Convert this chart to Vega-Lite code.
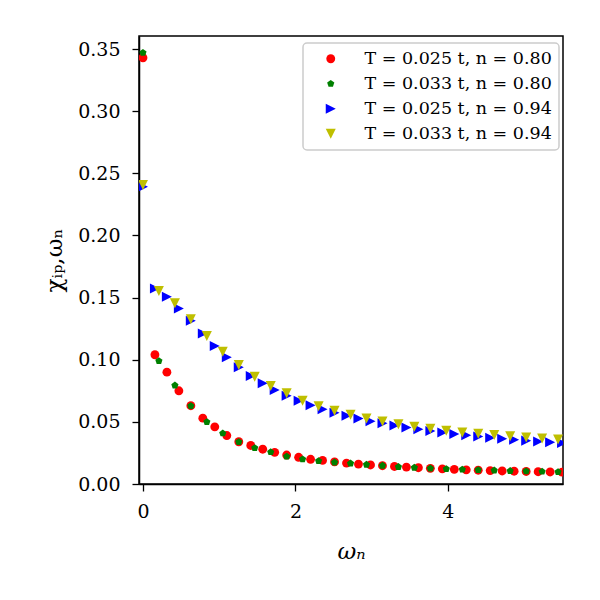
{
  "$schema": "https://vega.github.io/schema/vega-lite/v6.json",
  "width": 424,
  "height": 448,
  "autosize": "none",
  "padding": {"left": 139, "top": 36, "right": 37, "bottom": 116},
  "background": "white",
  "config": {
    "view": {"stroke": "black", "strokeWidth": 1.5},
    "font": "DejaVu Serif",
    "axis": {
      "grid": false,
      "domainColor": "black",
      "domainWidth": 1.5,
      "tickColor": "black",
      "tickWidth": 1.3,
      "tickSize": 7,
      "labelFont": "DejaVu Serif",
      "labelFontSize": 19,
      "labelColor": "black",
      "titleFont": "DejaVu Serif",
      "titleFontSize": 23,
      "titleFontWeight": "normal",
      "titleColor": "black"
    },
    "legend": {
      "orient": "none",
      "legendX": 164,
      "legendY": 7,
      "padding": 7,
      "rowPadding": 6,
      "symbolOffset": 12,
      "labelOffset": 25,
      "labelFont": "DejaVu Serif",
      "labelFontSize": 17.5,
      "labelColor": "black",
      "labelLimit": 400,
      "symbolSize": 78.5,
      "symbolStrokeWidth": 0,
      "strokeColor": "#cccccc",
      "strokeWidth": 1.5,
      "fillColor": "rgba(255,255,255,0.8)",
      "cornerRadius": 4
    }
  },
  "data": {
    "values": [
      {"s": "T = 0.025 t, n = 0.80", "w": 0.000, "chi": 0.343},
      {"s": "T = 0.025 t, n = 0.80", "w": 0.157, "chi": 0.104},
      {"s": "T = 0.025 t, n = 0.80", "w": 0.314, "chi": 0.090},
      {"s": "T = 0.025 t, n = 0.80", "w": 0.471, "chi": 0.075},
      {"s": "T = 0.025 t, n = 0.80", "w": 0.628, "chi": 0.063},
      {"s": "T = 0.025 t, n = 0.80", "w": 0.785, "chi": 0.053},
      {"s": "T = 0.025 t, n = 0.80", "w": 0.942, "chi": 0.046},
      {"s": "T = 0.025 t, n = 0.80", "w": 1.100, "chi": 0.039},
      {"s": "T = 0.025 t, n = 0.80", "w": 1.257, "chi": 0.034},
      {"s": "T = 0.025 t, n = 0.80", "w": 1.414, "chi": 0.031},
      {"s": "T = 0.025 t, n = 0.80", "w": 1.571, "chi": 0.028},
      {"s": "T = 0.025 t, n = 0.80", "w": 1.728, "chi": 0.0255},
      {"s": "T = 0.025 t, n = 0.80", "w": 1.885, "chi": 0.0233},
      {"s": "T = 0.025 t, n = 0.80", "w": 2.042, "chi": 0.0215},
      {"s": "T = 0.025 t, n = 0.80", "w": 2.199, "chi": 0.0199},
      {"s": "T = 0.025 t, n = 0.80", "w": 2.356, "chi": 0.0190},
      {"s": "T = 0.025 t, n = 0.80", "w": 2.513, "chi": 0.0178},
      {"s": "T = 0.025 t, n = 0.80", "w": 2.670, "chi": 0.0168},
      {"s": "T = 0.025 t, n = 0.80", "w": 2.827, "chi": 0.0160},
      {"s": "T = 0.025 t, n = 0.80", "w": 2.985, "chi": 0.0153},
      {"s": "T = 0.025 t, n = 0.80", "w": 3.142, "chi": 0.0147},
      {"s": "T = 0.025 t, n = 0.80", "w": 3.299, "chi": 0.0141},
      {"s": "T = 0.025 t, n = 0.80", "w": 3.456, "chi": 0.0136},
      {"s": "T = 0.025 t, n = 0.80", "w": 3.613, "chi": 0.0131},
      {"s": "T = 0.025 t, n = 0.80", "w": 3.770, "chi": 0.0126},
      {"s": "T = 0.025 t, n = 0.80", "w": 3.927, "chi": 0.0122},
      {"s": "T = 0.025 t, n = 0.80", "w": 4.084, "chi": 0.0118},
      {"s": "T = 0.025 t, n = 0.80", "w": 4.241, "chi": 0.0114},
      {"s": "T = 0.025 t, n = 0.80", "w": 4.398, "chi": 0.0111},
      {"s": "T = 0.025 t, n = 0.80", "w": 4.555, "chi": 0.0108},
      {"s": "T = 0.025 t, n = 0.80", "w": 4.712, "chi": 0.0105},
      {"s": "T = 0.025 t, n = 0.80", "w": 4.869, "chi": 0.0103},
      {"s": "T = 0.025 t, n = 0.80", "w": 5.027, "chi": 0.0101},
      {"s": "T = 0.025 t, n = 0.80", "w": 5.184, "chi": 0.0099},
      {"s": "T = 0.025 t, n = 0.80", "w": 5.341, "chi": 0.0097},
      {"s": "T = 0.025 t, n = 0.80", "w": 5.498, "chi": 0.0095},

      {"s": "T = 0.033 t, n = 0.80", "w": 0.000, "chi": 0.347},
      {"s": "T = 0.033 t, n = 0.80", "w": 0.209, "chi": 0.099},
      {"s": "T = 0.033 t, n = 0.80", "w": 0.419, "chi": 0.0794},
      {"s": "T = 0.033 t, n = 0.80", "w": 0.628, "chi": 0.0628},
      {"s": "T = 0.033 t, n = 0.80", "w": 0.838, "chi": 0.0499},
      {"s": "T = 0.033 t, n = 0.80", "w": 1.047, "chi": 0.0408},
      {"s": "T = 0.033 t, n = 0.80", "w": 1.257, "chi": 0.0338},
      {"s": "T = 0.033 t, n = 0.80", "w": 1.466, "chi": 0.0290},
      {"s": "T = 0.033 t, n = 0.80", "w": 1.676, "chi": 0.0257},
      {"s": "T = 0.033 t, n = 0.80", "w": 1.885, "chi": 0.0222},
      {"s": "T = 0.033 t, n = 0.80", "w": 2.094, "chi": 0.0200},
      {"s": "T = 0.033 t, n = 0.80", "w": 2.304, "chi": 0.0185},
      {"s": "T = 0.033 t, n = 0.80", "w": 2.513, "chi": 0.0174},
      {"s": "T = 0.033 t, n = 0.80", "w": 2.723, "chi": 0.0166},
      {"s": "T = 0.033 t, n = 0.80", "w": 2.932, "chi": 0.0156},
      {"s": "T = 0.033 t, n = 0.80", "w": 3.142, "chi": 0.0148},
      {"s": "T = 0.033 t, n = 0.80", "w": 3.351, "chi": 0.0138},
      {"s": "T = 0.033 t, n = 0.80", "w": 3.560, "chi": 0.0132},
      {"s": "T = 0.033 t, n = 0.80", "w": 3.770, "chi": 0.0126},
      {"s": "T = 0.033 t, n = 0.80", "w": 3.979, "chi": 0.0121},
      {"s": "T = 0.033 t, n = 0.80", "w": 4.189, "chi": 0.0117},
      {"s": "T = 0.033 t, n = 0.80", "w": 4.398, "chi": 0.0113},
      {"s": "T = 0.033 t, n = 0.80", "w": 4.608, "chi": 0.0110},
      {"s": "T = 0.033 t, n = 0.80", "w": 4.817, "chi": 0.0106},
      {"s": "T = 0.033 t, n = 0.80", "w": 5.027, "chi": 0.0103},
      {"s": "T = 0.033 t, n = 0.80", "w": 5.236, "chi": 0.0100},
      {"s": "T = 0.033 t, n = 0.80", "w": 5.445, "chi": 0.0097},

      {"s": "T = 0.025 t, n = 0.94", "w": 0.000, "chi": 0.2392},
      {"s": "T = 0.025 t, n = 0.94", "w": 0.157, "chi": 0.1574},
      {"s": "T = 0.025 t, n = 0.94", "w": 0.314, "chi": 0.1507},
      {"s": "T = 0.025 t, n = 0.94", "w": 0.471, "chi": 0.1413},
      {"s": "T = 0.025 t, n = 0.94", "w": 0.628, "chi": 0.1314},
      {"s": "T = 0.025 t, n = 0.94", "w": 0.785, "chi": 0.1212},
      {"s": "T = 0.025 t, n = 0.94", "w": 0.942, "chi": 0.1110},
      {"s": "T = 0.025 t, n = 0.94", "w": 1.100, "chi": 0.1019},
      {"s": "T = 0.025 t, n = 0.94", "w": 1.257, "chi": 0.0939},
      {"s": "T = 0.025 t, n = 0.94", "w": 1.414, "chi": 0.0869},
      {"s": "T = 0.025 t, n = 0.94", "w": 1.571, "chi": 0.0810},
      {"s": "T = 0.025 t, n = 0.94", "w": 1.728, "chi": 0.0756},
      {"s": "T = 0.025 t, n = 0.94", "w": 1.885, "chi": 0.0711},
      {"s": "T = 0.025 t, n = 0.94", "w": 2.042, "chi": 0.0670},
      {"s": "T = 0.025 t, n = 0.94", "w": 2.199, "chi": 0.0633},
      {"s": "T = 0.025 t, n = 0.94", "w": 2.356, "chi": 0.0601},
      {"s": "T = 0.025 t, n = 0.94", "w": 2.513, "chi": 0.0574},
      {"s": "T = 0.025 t, n = 0.94", "w": 2.670, "chi": 0.0550},
      {"s": "T = 0.025 t, n = 0.94", "w": 2.827, "chi": 0.0528},
      {"s": "T = 0.025 t, n = 0.94", "w": 2.985, "chi": 0.0505},
      {"s": "T = 0.025 t, n = 0.94", "w": 3.142, "chi": 0.0488},
      {"s": "T = 0.025 t, n = 0.94", "w": 3.299, "chi": 0.0470},
      {"s": "T = 0.025 t, n = 0.94", "w": 3.456, "chi": 0.0455},
      {"s": "T = 0.025 t, n = 0.94", "w": 3.613, "chi": 0.0440},
      {"s": "T = 0.025 t, n = 0.94", "w": 3.770, "chi": 0.0427},
      {"s": "T = 0.025 t, n = 0.94", "w": 3.927, "chi": 0.0414},
      {"s": "T = 0.025 t, n = 0.94", "w": 4.084, "chi": 0.0403},
      {"s": "T = 0.025 t, n = 0.94", "w": 4.241, "chi": 0.0392},
      {"s": "T = 0.025 t, n = 0.94", "w": 4.398, "chi": 0.0382},
      {"s": "T = 0.025 t, n = 0.94", "w": 4.555, "chi": 0.0373},
      {"s": "T = 0.025 t, n = 0.94", "w": 4.712, "chi": 0.0365},
      {"s": "T = 0.025 t, n = 0.94", "w": 4.869, "chi": 0.0356},
      {"s": "T = 0.025 t, n = 0.94", "w": 5.027, "chi": 0.0349},
      {"s": "T = 0.025 t, n = 0.94", "w": 5.184, "chi": 0.0342},
      {"s": "T = 0.025 t, n = 0.94", "w": 5.341, "chi": 0.0335},
      {"s": "T = 0.025 t, n = 0.94", "w": 5.498, "chi": 0.0330},

      {"s": "T = 0.033 t, n = 0.94", "w": 0.000, "chi": 0.2406},
      {"s": "T = 0.033 t, n = 0.94", "w": 0.209, "chi": 0.1553},
      {"s": "T = 0.033 t, n = 0.94", "w": 0.419, "chi": 0.1454},
      {"s": "T = 0.033 t, n = 0.94", "w": 0.628, "chi": 0.1325},
      {"s": "T = 0.033 t, n = 0.94", "w": 0.838, "chi": 0.1191},
      {"s": "T = 0.033 t, n = 0.94", "w": 1.047, "chi": 0.1065},
      {"s": "T = 0.033 t, n = 0.94", "w": 1.257, "chi": 0.0957},
      {"s": "T = 0.033 t, n = 0.94", "w": 1.466, "chi": 0.0863},
      {"s": "T = 0.033 t, n = 0.94", "w": 1.676, "chi": 0.0788},
      {"s": "T = 0.033 t, n = 0.94", "w": 1.885, "chi": 0.0730},
      {"s": "T = 0.033 t, n = 0.94", "w": 2.094, "chi": 0.0670},
      {"s": "T = 0.033 t, n = 0.94", "w": 2.304, "chi": 0.0625},
      {"s": "T = 0.033 t, n = 0.94", "w": 2.513, "chi": 0.0590},
      {"s": "T = 0.033 t, n = 0.94", "w": 2.723, "chi": 0.0557},
      {"s": "T = 0.033 t, n = 0.94", "w": 2.932, "chi": 0.0528},
      {"s": "T = 0.033 t, n = 0.94", "w": 3.142, "chi": 0.0502},
      {"s": "T = 0.033 t, n = 0.94", "w": 3.351, "chi": 0.0480},
      {"s": "T = 0.033 t, n = 0.94", "w": 3.560, "chi": 0.0461},
      {"s": "T = 0.033 t, n = 0.94", "w": 3.770, "chi": 0.0445},
      {"s": "T = 0.033 t, n = 0.94", "w": 3.979, "chi": 0.0428},
      {"s": "T = 0.033 t, n = 0.94", "w": 4.189, "chi": 0.0415},
      {"s": "T = 0.033 t, n = 0.94", "w": 4.398, "chi": 0.0405},
      {"s": "T = 0.033 t, n = 0.94", "w": 4.608, "chi": 0.0394},
      {"s": "T = 0.033 t, n = 0.94", "w": 4.817, "chi": 0.0385},
      {"s": "T = 0.033 t, n = 0.94", "w": 5.027, "chi": 0.0374},
      {"s": "T = 0.033 t, n = 0.94", "w": 5.236, "chi": 0.0367},
      {"s": "T = 0.033 t, n = 0.94", "w": 5.445, "chi": 0.0359}
    ]
  },
  "mark": {"type": "point", "filled": true, "opacity": 1, "size": 78.5, "strokeWidth": 0, "clip": true},
  "encoding": {
    "x": {
      "field": "w",
      "type": "quantitative",
      "scale": {"domain": [-0.052, 5.51], "nice": false, "zero": false},
      "axis": {"values": [0, 2, 4], "format": "d", "labelPadding": 11, "title": "ωₙ", "titleFontStyle": "italic", "titlePadding": 19}
    },
    "y": {
      "field": "chi",
      "type": "quantitative",
      "scale": {"domain": [0, 0.3605], "nice": false},
      "axis": {"values": [0, 0.05, 0.1, 0.15, 0.2, 0.25, 0.3, 0.35], "format": ".2f", "labelPadding": 12, "title": "χᵢₚ,ωₙ", "titlePadding": 11}
    },
    "color": {
      "field": "s",
      "type": "nominal",
      "sort": null,
      "scale": {
        "domain": ["T = 0.025 t, n = 0.80", "T = 0.033 t, n = 0.80", "T = 0.025 t, n = 0.94", "T = 0.033 t, n = 0.94"],
        "range": ["#ff0000", "#008000", "#0000ff", "#bfbf00"]
      },
      "legend": {"title": null}
    },
    "shape": {
      "field": "s",
      "type": "nominal",
      "sort": null,
      "scale": {
        "domain": ["T = 0.025 t, n = 0.80", "T = 0.033 t, n = 0.80", "T = 0.025 t, n = 0.94", "T = 0.033 t, n = 0.94"],
        "range": [
          "circle",
          "M0,-0.85L0.808,-0.263L0.5,0.688L-0.5,0.688L-0.808,-0.263Z",
          "M-1.13,-1.13L1.13,0L-1.13,1.13Z",
          "M-1.13,-1.13L1.13,-1.13L0,1.13Z"
        ]
      },
      "legend": {"title": null}
    }
  }
}
